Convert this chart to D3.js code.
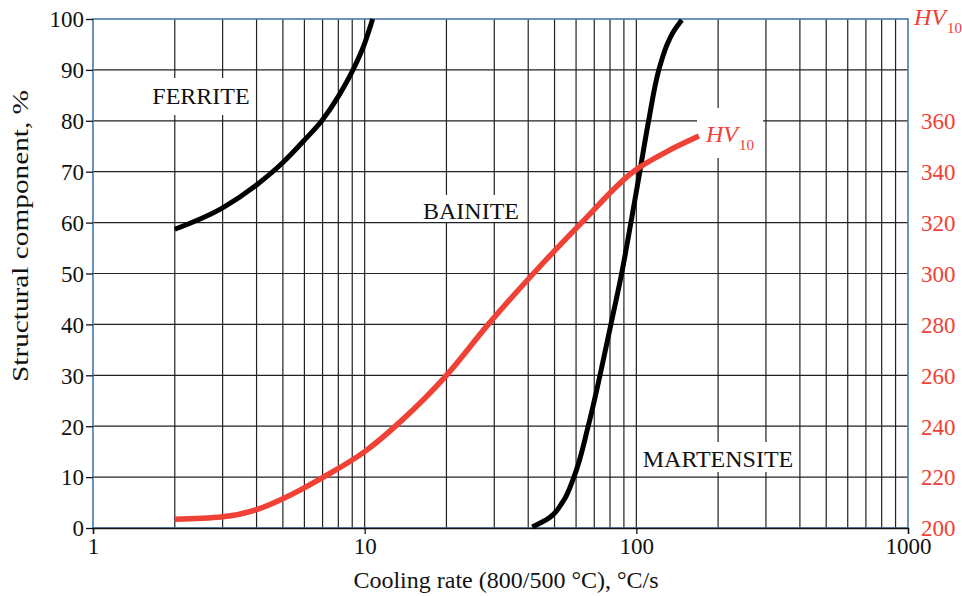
<!DOCTYPE html>
<html>
<head>
<meta charset="utf-8">
<script src="https://cdn.jsdelivr.net/npm/d3@7"></script>
<style>
  body { margin: 0; background: #fff; }
  text { font-family: "Liberation Serif", "Times New Roman", serif; }
</style>
</head>
<body>
<svg width="962" height="596"></svg>
<script>
// values
var rateTicks = [1, 10, 100, 1000];
var pctTicks = [0, 10, 20, 30, 40, 50, 60, 70, 80, 90, 100];
var hvTicks = [200, 220, 240, 260, 280, 300, 320, 340, 360];

var ferriteRate = [2, 3, 4, 5, 6, 7, 8, 9, 10, 10.7];
var ferritePct = [58.7, 62.9, 67.4, 71.8, 76.2, 80.2, 84.8, 89.7, 95.2, 100];

var martRate = [41.4, 47.8, 53.4, 58.9, 66.5, 73.5, 80.6, 88.3, 95.5, 103, 111, 121, 124.9, 129.8, 136.9, 147];
var martPct = [0.2, 2, 5, 10, 20, 30, 40, 50, 60, 70, 80, 90, 92.5, 95, 97.5, 99.8];

var hvRate = [2, 3, 4, 5, 7.05, 10, 13.6, 20, 28.5, 41.8, 62.9, 97.4, 130, 170];
var hvVal = [203.4, 204.4, 207.2, 211.5, 220, 230, 242, 260, 280, 300, 320, 340, 348, 354];

var svg = d3.select("svg");
// plot edges ("top" is taken on window, so other names)
var pL = 93, pR = 908, pT = 19, pB = 528;
var red = "#ef4136", blue = "#4a78a8";

var x = d3.scaleLog().domain([1, 1000]).range([pL, pR]);
var y = d3.scaleLinear().domain([0, 100]).range([pB, pT]);
var yHV = d3.scaleLinear().domain([200, 400]).range([pB, pT]);

// grid
var minor = [];
[1, 10, 100].forEach(function(d) {
  for (var k = 2; k <= 9; k++) minor.push(d * k);
});
minor.push(10, 100);

svg.append("g").selectAll("line").data(minor).join("line")
  .attr("x1", d => x(d)).attr("x2", d => x(d))
  .attr("y1", pT).attr("y2", pB)
  .attr("stroke", "#222").attr("stroke-width", 1.2);

svg.append("g").selectAll("line").data(pctTicks.slice(1, -1)).join("line")
  .attr("x1", pL).attr("x2", pR)
  .attr("y1", d => y(d)).attr("y2", d => y(d))
  .attr("stroke", "#222").attr("stroke-width", 1.2);

// white boxes behind labels
var boxes = [[148, 78, 106, 37], [420, 195, 102, 27], [638, 442, 159, 30], [697, 108, 66, 50]];
svg.append("g").selectAll("rect").data(boxes).join("rect")
  .attr("x", d => d[0]).attr("y", d => d[1])
  .attr("width", d => d[2]).attr("height", d => d[3])
  .attr("fill", "#fff");

// frame
svg.append("rect")
  .attr("x", pL).attr("y", pT)
  .attr("width", pR - pL).attr("height", pB - pT)
  .attr("fill", "none").attr("stroke", blue).attr("stroke-width", 1.6);

// left axis
var yAxis = svg.append("g")
  .attr("transform", "translate(" + pL + ",0)")
  .call(d3.axisLeft(y).tickValues(pctTicks).tickSize(7).tickPadding(2));
yAxis.select(".domain").remove();
yAxis.selectAll(".tick line").attr("stroke", "#111").attr("stroke-width", 1.3);
yAxis.selectAll(".tick text")
  .attr("fill", "#111").attr("font-size", 23).attr("dy", "0.34em")
  .style("font-family", "Liberation Serif");

// bottom axis
var xAxis = svg.append("g")
  .attr("transform", "translate(0," + pB + ")")
  .call(d3.axisBottom(x).tickValues(rateTicks).tickFormat(d3.format("d")).tickSize(6).tickPadding(4));
xAxis.select(".domain").attr("stroke", "#111").attr("stroke-width", 1.4);
xAxis.selectAll(".tick line").attr("stroke", "#111").attr("stroke-width", 1.3);
xAxis.selectAll(".tick text")
  .attr("fill", "#111").attr("font-size", 23)
  .style("font-family", "Liberation Serif");

// right axis (HV10)
var hvAxis = svg.append("g")
  .attr("transform", "translate(" + pR + ",0)")
  .call(d3.axisRight(yHV).tickValues(hvTicks).tickSize(0).tickPadding(13));
hvAxis.select(".domain").remove();
hvAxis.selectAll(".tick text")
  .attr("fill", red).attr("font-size", 23).attr("dy", "0.34em")
  .style("font-family", "Liberation Serif");

// curves
var lineX = d3.line().curve(d3.curveMonotoneX);
var lineY = d3.line().curve(d3.curveMonotoneY);

svg.append("path")
  .attr("d", lineX(ferriteRate.map((r, i) => [x(r), y(ferritePct[i])])))
  .attr("fill", "none").attr("stroke", "#000").attr("stroke-width", 5);

// martensite: steep, so interpolate along y (points sorted by pixel y)
var martPts = martRate.map((r, i) => [x(r), y(martPct[i])]).reverse();
svg.append("path")
  .attr("d", lineY(martPts))
  .attr("fill", "none").attr("stroke", "#000").attr("stroke-width", 5);

svg.append("path")
  .attr("d", lineX(hvRate.map((r, i) => [x(r), yHV(hvVal[i])])))
  .attr("fill", "none").attr("stroke", red).attr("stroke-width", 5.5);

// region labels
var labels = [["FERRITE", 201, 104], ["BAINITE", 471, 219], ["MARTENSITE", 718, 467]];
svg.append("g").selectAll("text").data(labels).join("text")
  .attr("x", d => d[1]).attr("y", d => d[2])
  .attr("text-anchor", "middle").attr("font-size", 24).attr("fill", "#111")
  .text(d => d[0]);

// HV10 labels
function hvLabel(px, py) {
  var t = svg.append("text").attr("x", px).attr("y", py)
    .attr("fill", red).attr("font-size", 24);
  t.append("tspan").attr("font-style", "italic").text("HV");
  t.append("tspan").attr("font-size", 15).attr("dy", 8).attr("dx", 1).text("10");
}
hvLabel(706, 142);
hvLabel(914, 25);

// axis titles
svg.append("text")
  .attr("x", 506).attr("y", 588)
  .attr("text-anchor", "middle").attr("font-size", 24).attr("fill", "#111")
  .text("Cooling rate (800/500 °C), °C/s");

svg.append("text")
  .attr("transform", "translate(28,236) rotate(-90)")
  .attr("text-anchor", "middle").attr("font-size", 23).attr("fill", "#111")
  .attr("textLength", 292).attr("lengthAdjust", "spacingAndGlyphs")
  .text("Structural component, %");
</script>
</body>
</html>
